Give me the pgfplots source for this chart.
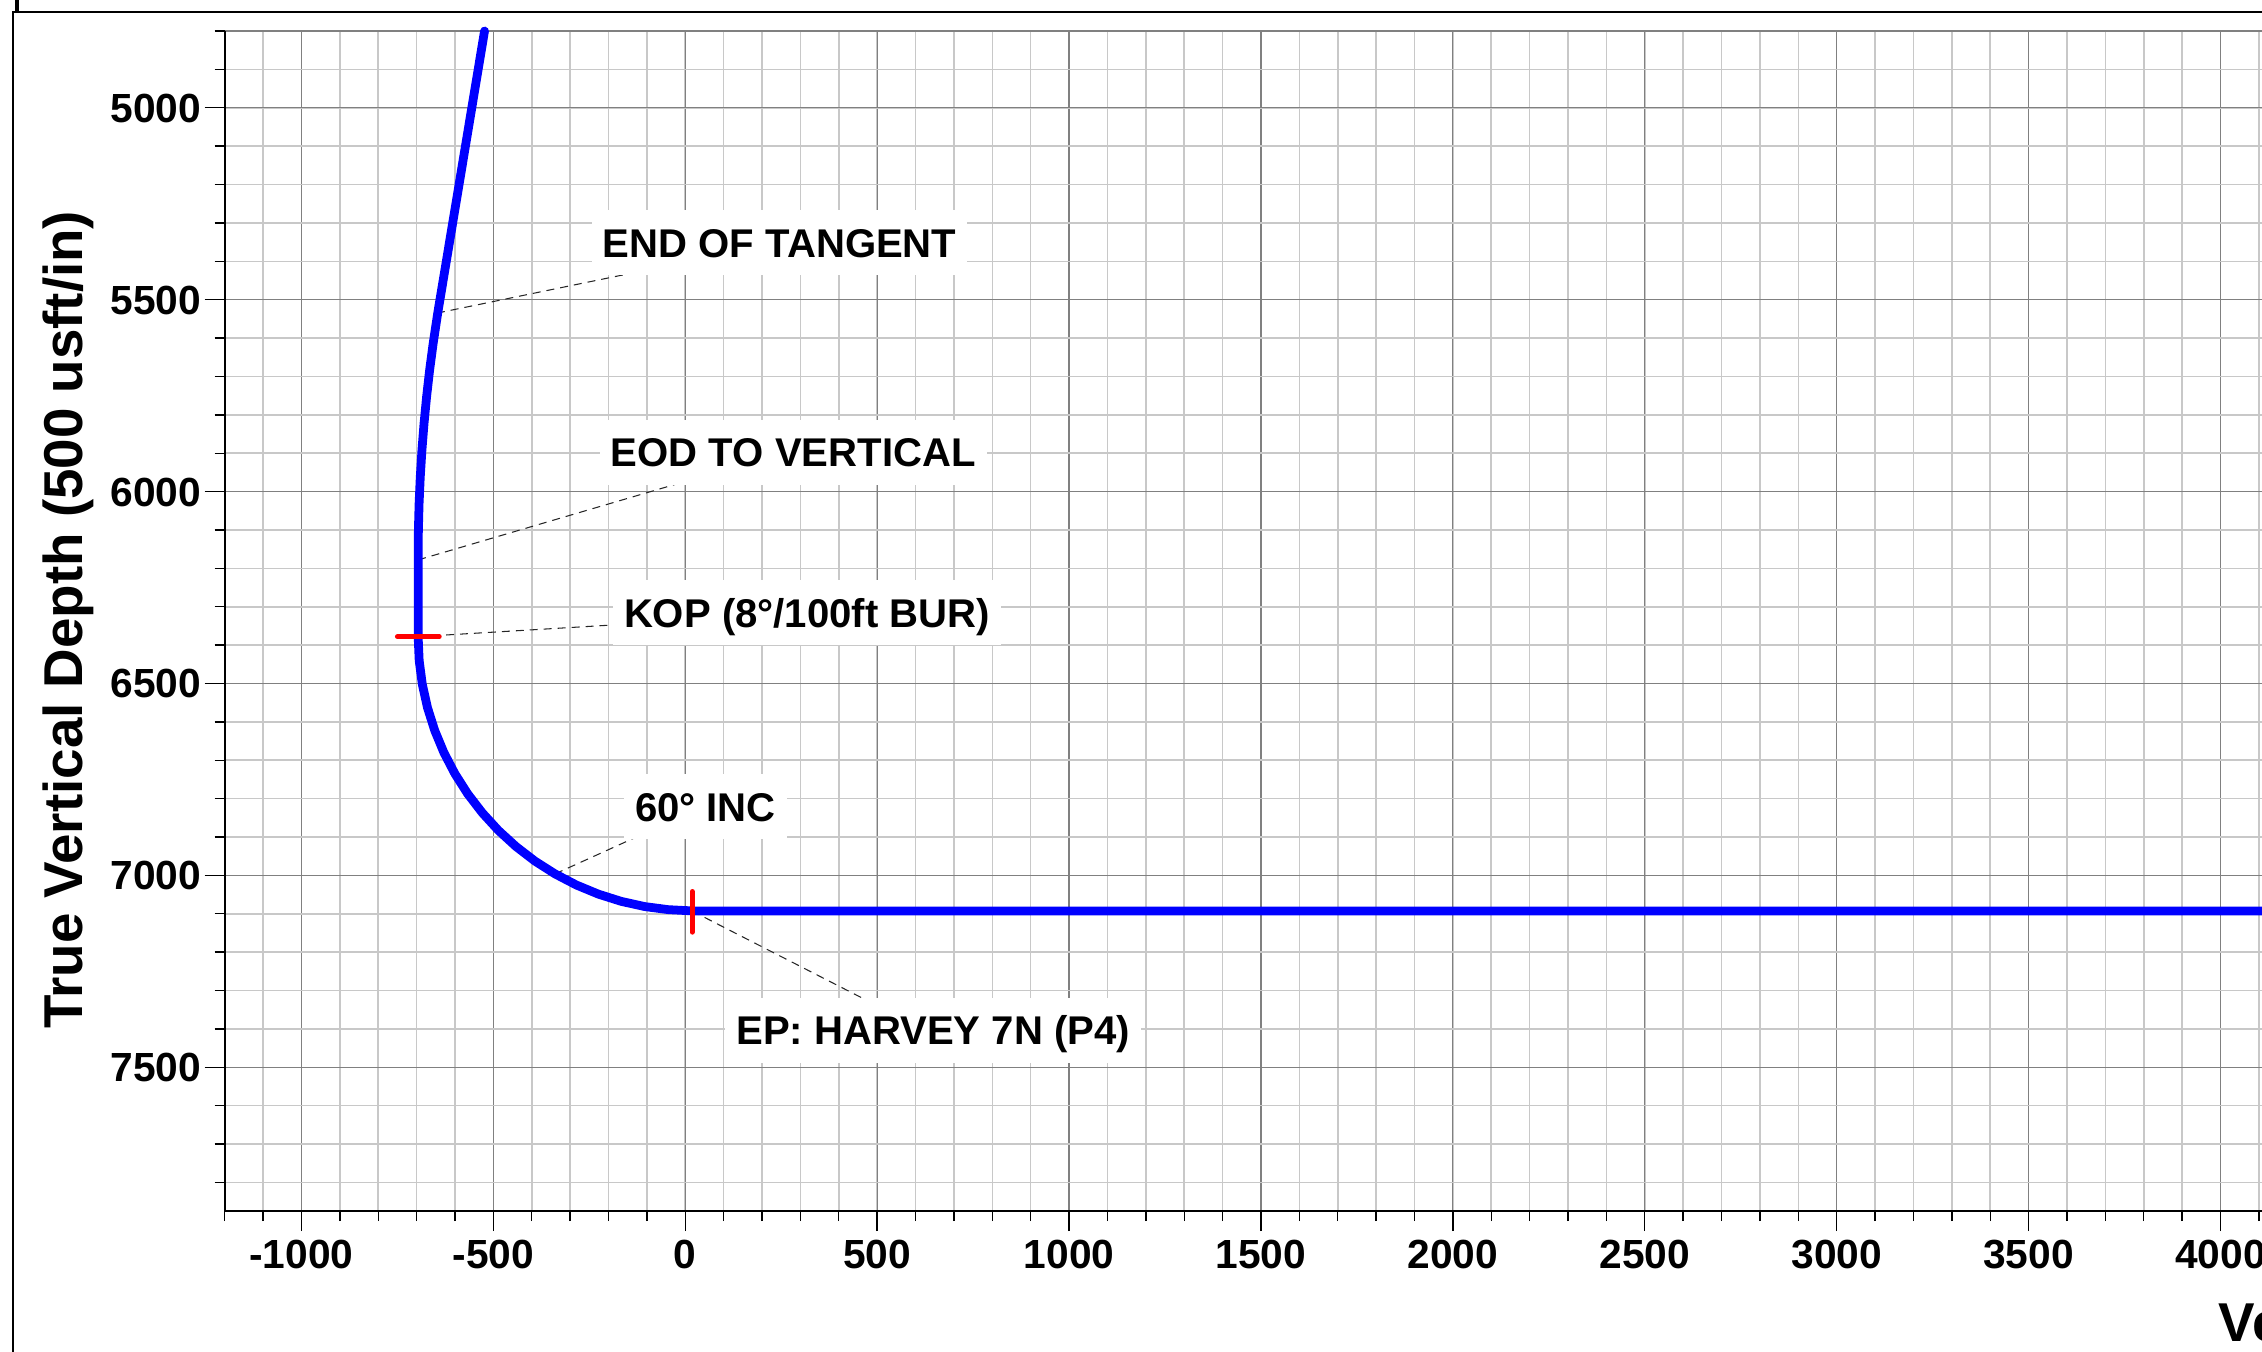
\documentclass[border=0pt]{standalone}
\usepackage{fontspec}
\setmainfont{Liberation Sans}
\usepackage{pgfplots}
\pgfplotsset{compat=1.18}
\newcommand\tickfont{\fontsize{11.6pt}{13pt}\selectfont\bfseries}
\newcommand\annfont{\fontsize{11.43pt}{13pt}\selectfont\bfseries}
\newcommand\labfont{\fontsize{15.6pt}{18pt}\selectfont\bfseries}
\definecolor{majgrid}{HTML}{808080}
\definecolor{mingrid}{HTML}{C8C8C8}
\definecolor{wellblue}{HTML}{0000FF}
\definecolor{markred}{HTML}{FF0000}
\tikzset{
  leader/.style={black!85, line width=0.3pt, dash pattern=on 0.08cm off 0.06cm},
  annot/.style={fill=white, font=\annfont, inner xsep=0.11cm, inner ysep=0.18cm,
                text height=0.29cm, text depth=0pt},
}
\begin{document}
\begin{tikzpicture}
\begin{axis}[
  x=0.003838cm, y=0.003838cm, y dir=reverse,
  xmin=-1200, xmax=4500, ymin=4800, ymax=7875,
  clip=false,
  axis line style={draw=none},
  xtick={-1000,-500,...,4500},
  xticklabels={-1000,-500,0,500,1000,1500,2000,2500,3000,3500,4000,4500},
  ytick={5000,5500,...,7500},
  yticklabels={5000,5500,6000,6500,7000,7500},
  minor xtick={-1200,-1100,...,4500},
  minor ytick={4800,4900,...,7800},
  grid=both,
  major grid style={draw=majgrid, line width=0.35pt},
  minor grid style={draw=mingrid, line width=0.45pt},
  tick align=outside,
  xtick pos=left, ytick pos=left,
  major tick length=0.2cm, minor tick length=0.1cm,
  tick style={black, line width=0.4pt},
  /pgf/number format/assume math mode=true,
  xticklabel style={font=\tickfont, anchor=north, inner sep=0pt, text height=0.29cm, text depth=0pt, yshift=-0.08cm},
  yticklabel style={font=\tickfont, anchor=east, inner sep=0pt, text height=0.29cm, text depth=0pt, xshift=-0.03cm},
]
% borders
\draw[majgrid, line width=0.35pt] (axis cs:-1200,4800) -- (axis cs:4500,4800);
\draw[black, line width=0.57pt] (axis cs:-1200,4800) -- (axis cs:-1200,7875) -- (axis cs:4500,7875);

% leader lines
\addplot[leader] coordinates {(-647,5535) (-150,5433)};
\addplot[leader] coordinates {(-696,6178) (-22,5980)};
\addplot[leader] coordinates {(-696,6378) (-196,6348)};
\addplot[leader] coordinates {(-339,6996) (-134,6903)};
\addplot[leader] coordinates {(18,7093) (460,7319)};

% well path
\addplot[wellblue, line width=2.5pt, line cap=round, line join=round] coordinates {
(-523,4800) (-645,5535)
(-656.9,5614.1) (-666.1,5683.6) (-674,5753.2) (-680.7,5823) (-686.2,5892.9)
(-690.5,5962.8) (-693.6,6032.8) (-695.4,6102.9) (-696,6173)
(-696,6378)
(-693.3,6440.2) (-685.2,6502.0) (-671.7,6562.8) (-652.9,6622.2) (-629.1,6679.7)
(-600.3,6735) (-566.9,6787.5) (-528.9,6836.9) (-486.9,6882.9) (-440.9,6924.9)
(-391.5,6962.9) (-339,6996.3) (-283.7,7025.1) (-226.2,7048.9) (-166.8,7067.7)
(-106,7081.2) (-44.2,7089.3) (18,7092.5) (200,7093) (4500,7093)
};

% markers
\addplot[markred, line width=1.42pt, line cap=round] coordinates {(-750,6378) (-641,6378)};
\addplot[markred, line width=1.42pt, line cap=round] coordinates {(18,7042) (18,7148)};

% annotations
\node[annot] at (axis cs:246,5352) {END OF TANGENT};
\node[annot] at (axis cs:281.5,5897.5) {EOD TO VERTICAL};
\node[annot] at (axis cs:317,6316) {KOP (8°/100ft BUR)};
\node[annot] at (axis cs:52.5,6821) {60° INC};
\node[annot] at (axis cs:646,7403) {EP: HARVEY 7N (P4)};

% axis labels
\node[font=\labfont, rotate=90, anchor=north, inner sep=0pt, text height=0.394cm, text depth=0pt]
  at (axis cs:-1674,6334) {True Vertical Depth (500 usft/in)};
\node[font=\labfont, anchor=base west, inner sep=0pt] at (axis cs:3994,8215)
  {Vertical Section at 90.00° (500 usft/in)};

% page frame
\draw[black, line width=0.04cm] (axis cs:-1742,4700) -- (axis cs:-1742,4750.5);
\draw[black, line width=0.02cm] (axis cs:-1751.6,8300) -- (axis cs:-1751.6,4750.5) -- (axis cs:4300,4750.5);

\coordinate (TL) at (axis cs:-1785.5,4719.2);
\coordinate (BR) at (axis cs:4108.2,8239.3);
\end{axis}
\pgfresetboundingbox
\path[use as bounding box] (TL) rectangle (BR);
\end{tikzpicture}
\end{document}
